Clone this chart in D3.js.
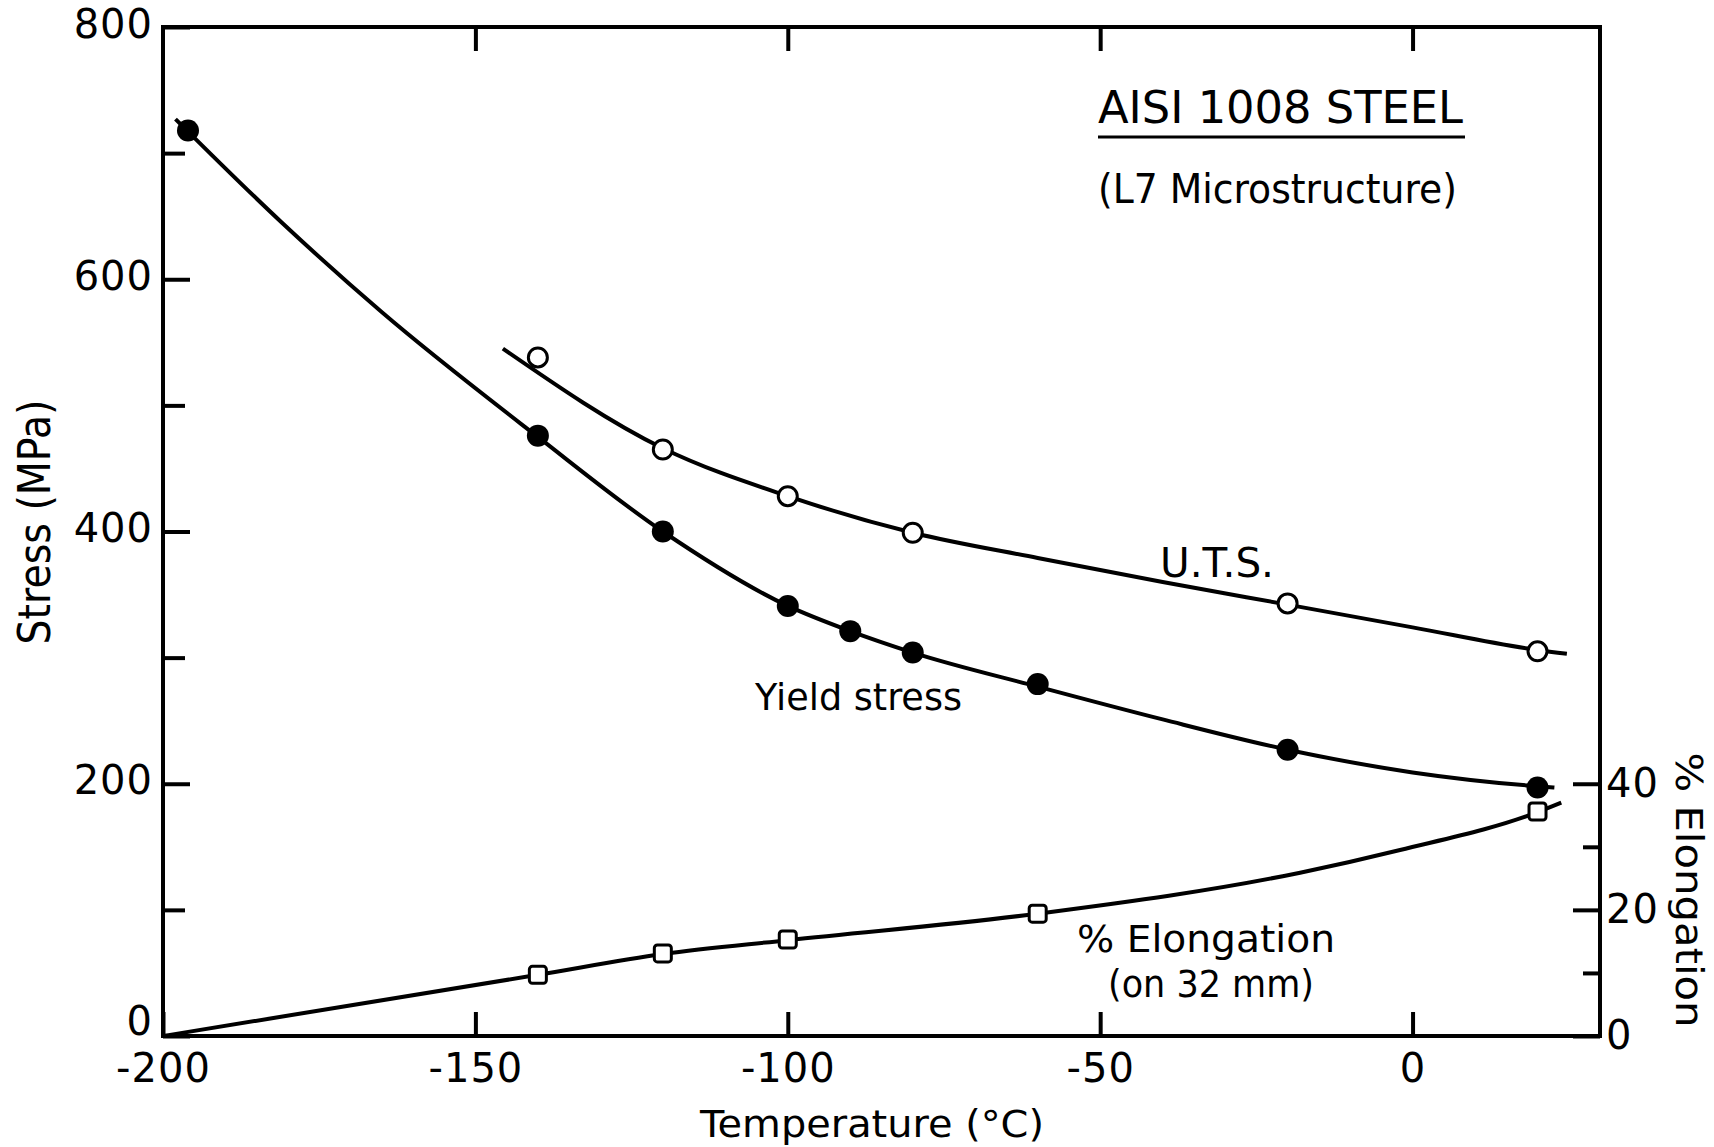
<!DOCTYPE html>
<html>
<head>
<meta charset="utf-8">
<script src="https://d3js.org/d3.v7.min.js"></script>
<style>
  body { margin: 0; background: #fff; }
  text { font-family: "DejaVu Sans", sans-serif; fill: #000; }
</style>
</head>
<body>
<svg id="chart" width="1714" height="1147"></svg>
<script>
// measured markers
const yieldT = [-196, -140, -120, -100, -90, -80, -60, -20, 20];
const yieldS = [718, 476, 400, 341, 321, 304, 279, 227, 197];
const utsT = [-140, -120, -100, -80, -20, 20];
const utsS = [538, 465, 428, 399, 343, 305];
const elongT = [-140, -120, -100, -60, 20];
const elongP = [9.7, 13.1, 15.3, 19.4, 35.6];

// hand-drawn fitted curves
const yieldCurveT = [-198, -181, -165, -140, -120, -100, -90, -80, -60, -40, -20, 0, 20, 22.7];
const yieldCurveS = [727, 645, 574, 475, 400, 341, 321, 304, 277, 251, 227, 209, 198, 197];
const utsCurveT = [-145.6, -120, -100, -80, -60, -40, -20, 0, 20, 24.7];
const utsCurveS = [545, 466, 428, 399, 379, 360, 342, 324, 306, 303];
const elongCurveT = [-200, -140, -120, -100, -60, -18, -2, 20, 23.8];
const elongCurveP = [0, 9.7, 13, 15.2, 19.4, 25.9, 29.5, 35.5, 37];

// ticks
const xTicks = [-200, -150, -100, -50, 0];
const yMajor = [0, 200, 400, 600, 800];
const yMinor = [100, 300, 500, 700];
const rMajor = [0, 20, 40];
const rMinor = [10, 30];

const svg = d3.select("#chart");
const m = { left: 163, right: 1600, top: 27, bottom: 1036 };

const x = d3.scaleLinear().domain([-200, 30]).range([m.left, m.right]);
const y = d3.scaleLinear().domain([0, 800]).range([m.bottom, m.top]);
const yR = d3.scaleLinear().domain([0, 160]).range([m.bottom, m.top]); // % elongation, 40% = 200 MPa

const zip = (a, b) => a.map((v, i) => [v, b[i]]);

// frame
svg.append("rect")
  .attr("x", m.left).attr("y", m.top)
  .attr("width", m.right - m.left).attr("height", m.bottom - m.top)
  .attr("fill", "none").attr("stroke", "#000").attr("stroke-width", 4);

function styleAxis(g) {
  g.select(".domain").remove();
  g.selectAll("line").attr("stroke", "#000").attr("stroke-width", 4);
  g.selectAll("text").attr("font-size", 40).attr("letter-spacing", 1).attr("fill", "#000");
}

// left
svg.append("g").attr("transform", `translate(${m.left},0)`)
  .call(d3.axisLeft(y).tickValues(yMajor).tickSize(-27).tickPadding(10))
  .call(styleAxis)
  .selectAll("text").attr("dy", d => d === 0 ? "-0.05em" : "0.25em");
svg.append("g").attr("transform", `translate(${m.left},0)`)
  .call(d3.axisLeft(y).tickValues(yMinor).tickSize(-22).tickFormat(""))
  .call(styleAxis);

// bottom
svg.append("g").attr("transform", `translate(0,${m.bottom})`)
  .call(d3.axisBottom(x).tickValues(xTicks).tickSize(-24).tickPadding(18).tickFormat(d => d < 0 ? "-" + Math.abs(d) : d))
  .call(styleAxis);
// top ticks
svg.append("g").attr("transform", `translate(0,${m.top})`)
  .call(d3.axisTop(x).tickValues(xTicks.slice(1)).tickSize(-24).tickFormat(""))
  .call(styleAxis);

// right
svg.append("g").attr("transform", `translate(${m.right},0)`)
  .call(d3.axisRight(yR).tickValues(rMajor).tickSize(-27).tickPadding(6))
  .call(styleAxis);
svg.append("g").attr("transform", `translate(${m.right},0)`)
  .call(d3.axisRight(yR).tickValues(rMinor).tickSize(-17).tickFormat(""))
  .call(styleAxis);

// curves
const lineS = d3.line().x(d => x(d[0])).y(d => y(d[1])).curve(d3.curveMonotoneX);
const lineE = d3.line().x(d => x(d[0])).y(d => yR(d[1])).curve(d3.curveMonotoneX);

[zip(yieldCurveT, yieldCurveS), zip(utsCurveT, utsCurveS)].forEach(c => {
  svg.append("path").attr("d", lineS(c))
    .attr("fill", "none").attr("stroke", "#000").attr("stroke-width", 4);
});
svg.append("path").attr("d", lineE(zip(elongCurveT, elongCurveP)))
  .attr("fill", "none").attr("stroke", "#000").attr("stroke-width", 4);

// markers
svg.append("g").selectAll("circle").data(zip(yieldT, yieldS)).join("circle")
  .attr("cx", d => x(d[0])).attr("cy", d => y(d[1])).attr("r", 11).attr("fill", "#000");
svg.append("g").selectAll("circle").data(zip(utsT, utsS)).join("circle")
  .attr("cx", d => x(d[0])).attr("cy", d => y(d[1])).attr("r", 9.5)
  .attr("fill", "#fff").attr("stroke", "#000").attr("stroke-width", 3);
svg.append("g").selectAll("rect").data(zip(elongT, elongP)).join("rect")
  .attr("x", d => x(d[0]) - 8.5).attr("y", d => yR(d[1]) - 8.5)
  .attr("width", 17).attr("height", 17).attr("rx", 3)
  .attr("fill", "#fff").attr("stroke", "#000").attr("stroke-width", 3);

// labels
function label(txt, px, py, size, len, rot) {
  const t = svg.append("text").text(txt)
    .attr("font-size", size)
    .attr("textLength", len).attr("lengthAdjust", "spacingAndGlyphs");
  if (rot !== undefined) {
    t.attr("text-anchor", "middle").attr("transform", `translate(${px},${py}) rotate(${rot})`);
  } else {
    t.attr("x", px).attr("y", py);
  }
  return t;
}

label("AISI 1008 STEEL", 1098, 123, 44, 365);
svg.append("line").attr("x1", 1098).attr("x2", 1465).attr("y1", 137).attr("y2", 137)
  .attr("stroke", "#000").attr("stroke-width", 3);
label("(L7 Microstructure)", 1098, 203, 41, 359);
label("U.T.S.", 1160, 577, 41, 114);
label("Yield stress", 755, 710, 38, 207);
label("% Elongation", 1077, 952, 37, 258);
label("(on 32 mm)", 1108, 997, 37, 206);
label("Temperature (°C)", 872, 1137, 37, 344, 0);
label("Stress (MPa)", 50, 522, 44, 245, -90);
label("% Elongation", 1676, 890, 37, 275, 90);
</script>
</body>
</html>
